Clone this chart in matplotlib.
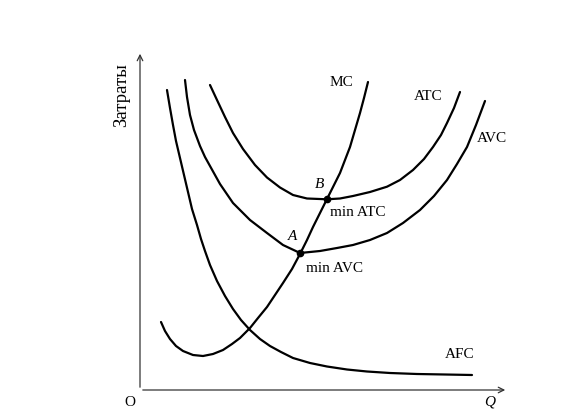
import matplotlib
matplotlib.use("Agg")
import matplotlib.pyplot as plt

# curves (Q along x, cost along y)
afc_q = [27, 30, 33, 36, 40, 44, 48, 52, 57, 61, 65, 70, 77, 85, 93, 101, 110,
         120, 130, 141, 153, 170, 187, 207, 227, 250, 277, 305, 332]
afc_c = [300, 282, 265, 249, 232, 215, 198, 181, 165, 151, 139, 125, 109, 94, 81,
         70, 60, 51, 44, 38, 32, 27, 23.5, 20.5, 18.5, 17, 16, 15.5, 15]

atc_q = [70, 77, 85, 93, 103, 115, 127, 140, 153, 167, 187, 200, 213, 230, 247,
         260, 273, 284, 293, 301, 307, 314, 320]
atc_c = [305, 290, 273, 257, 241, 225, 212.5, 202.5, 195, 191.5, 190.7, 191.5, 194,
         198, 203.3, 210, 220, 231, 243, 255, 267, 282, 298]

avc_q = [45, 47, 50, 54, 60, 65, 70, 80, 93, 110, 127, 143, 160, 180, 197, 213,
         230, 247, 263, 280, 294, 307, 317, 327, 336, 345]
avc_c = [310, 293, 275, 260, 244, 233, 224, 206, 187, 170, 157, 145, 137, 139,
         142, 145, 150, 157, 167, 180, 194, 210, 226, 243, 265, 289]

mc_q = [21, 25, 30, 36, 43, 53, 63, 73, 83, 92, 100, 110, 118, 127, 135, 143,
        152, 160, 167, 173, 180, 187, 193, 200, 205, 210, 215, 220, 224, 228]
mc_c = [68, 59, 51, 44, 39, 35, 34, 36, 40, 46, 52, 62, 72, 83, 95, 107, 121,
        136, 150, 163, 177, 191, 203, 217, 230, 243, 260, 277, 292, 308]

min_avc = (160, 137)
min_atc = (187, 191)

plt.rcParams['font.family'] = ['Liberation Serif', 'DejaVu Serif']

fig = plt.figure(figsize=(5.81, 4.16), dpi=100)
ax = fig.add_axes([0, 0, 1, 1])
ax.set_xlim(-140, 441)
ax.set_ylim(-26, 390)
ax.axis('off')

# axes with arrows
ax.annotate('', xy=(368, 0), xytext=(0, 0),
            arrowprops=dict(arrowstyle='->', color='#333333', lw=0.9))
ax.annotate('', xy=(0, 339), xytext=(0, 0),
            arrowprops=dict(arrowstyle='->', color='#333333', lw=0.9))

lw = 1.6
for q, c in [(afc_q, afc_c), (atc_q, atc_c), (avc_q, avc_c), (mc_q, mc_c)]:
    ax.plot(q, c, color='black', lw=lw, solid_capstyle='round',
            solid_joinstyle='round')

ax.plot(*min_avc, 'o', color='black', ms=4.5)
ax.plot(*min_atc, 'o', color='black', ms=4.5)

fs = 11
ax.text(201, 307, 'MC', fontsize=fs, ha='center', va='center')
ax.text(288, 293, 'ATC', fontsize=fs, ha='center', va='center')
ax.text(352, 252, 'AVC', fontsize=fs, ha='center', va='center')
ax.text(320, 35, 'AFC', fontsize=fs, ha='center', va='center')
ax.text(180, 205, 'B', fontsize=fs, style='italic', ha='center', va='center')
ax.text(153, 153, 'A', fontsize=fs, style='italic', ha='center', va='center')
ax.text(190, 177, 'min ATC', fontsize=fs, ha='left', va='center')
ax.text(166, 122, 'min AVC', fontsize=fs, ha='left', va='center')
ax.text(-10, -12, 'O', fontsize=fs, ha='center', va='center')
ax.text(350, -12, 'Q', fontsize=fs, style='italic', ha='center', va='center')
ax.text(-18.5, 295, 'Затраты', fontsize=13.5, rotation=90, ha='center', va='center')

fig.savefig('out.png', dpi=100)
